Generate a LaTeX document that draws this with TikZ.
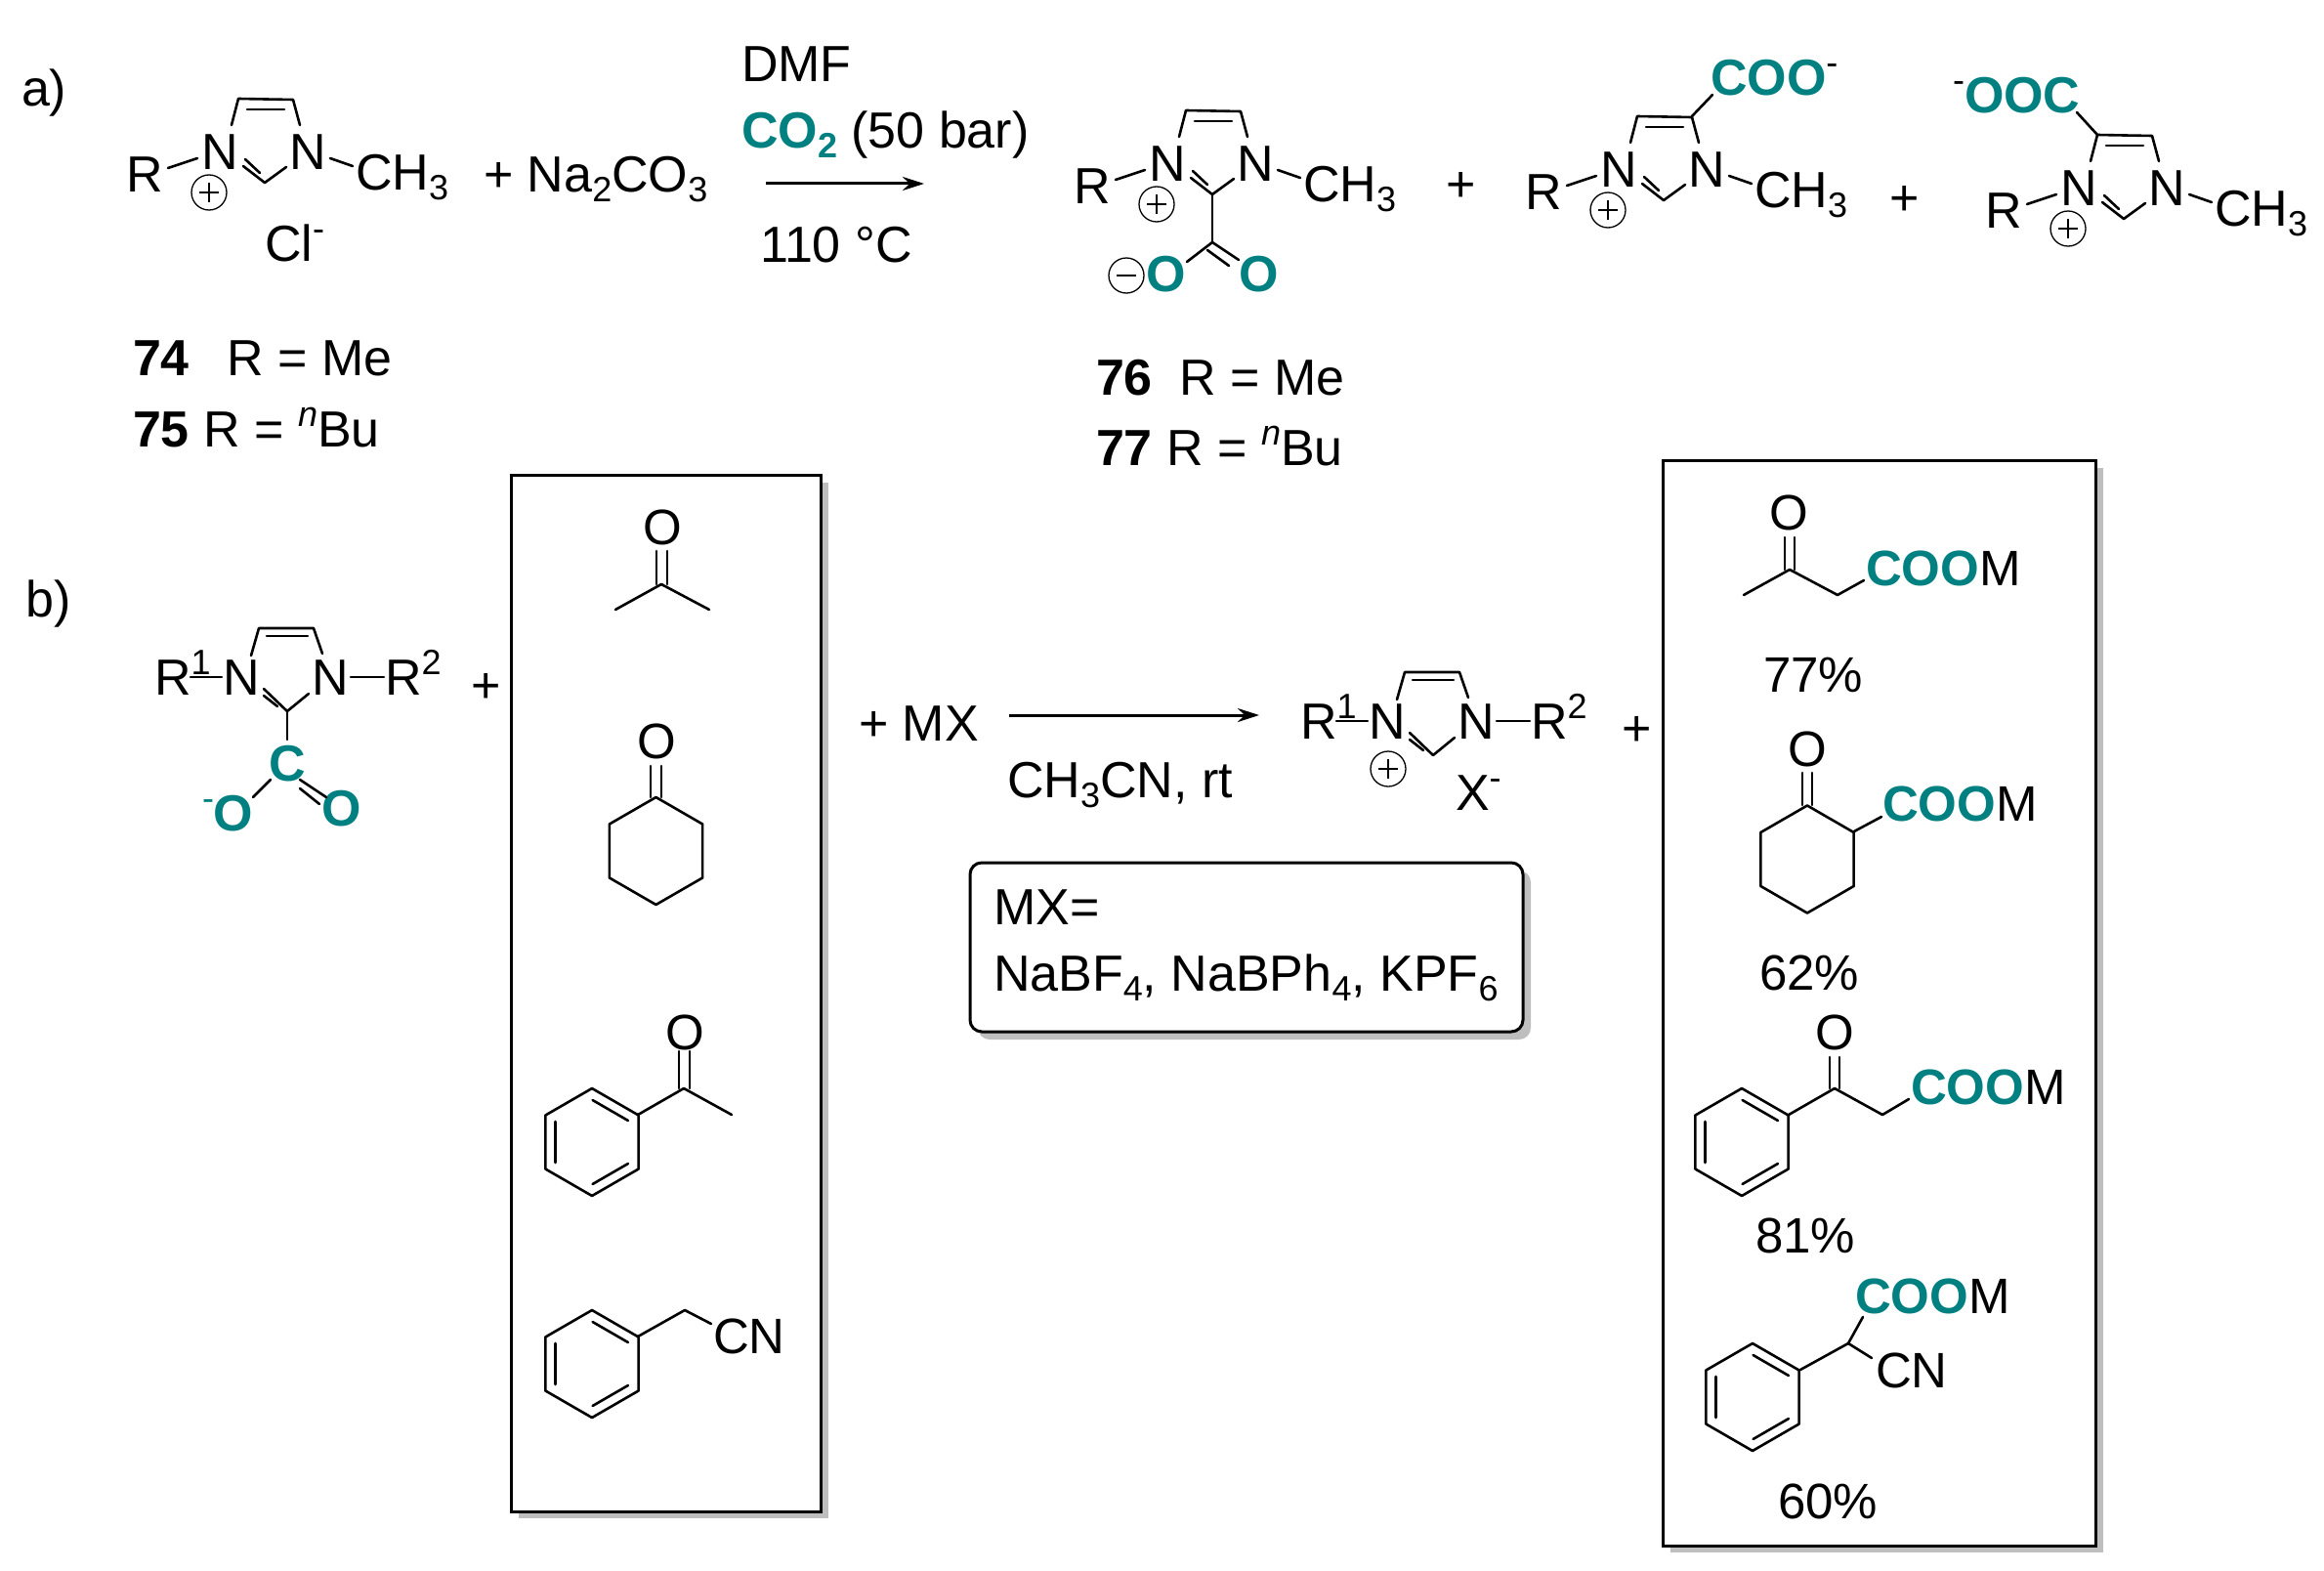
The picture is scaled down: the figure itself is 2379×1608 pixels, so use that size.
\documentclass[tikz,border=0pt]{standalone}
\usepackage{fontspec}
\setmainfont{Liberation Sans}
\usetikzlibrary{arrows.meta}
\definecolor{tl}{RGB}{0,128,128}
\definecolor{shade}{RGB}{190,190,190}
\newcommand\lf{\fontsize{52}{60}\selectfont}
\newcommand\rf{\fontsize{51}{60}\selectfont}
\newcommand\sbs[1]{\raisebox{-.2em}{\fontsize{36}{36}\selectfont #1}}
\newcommand\sps[1]{\raisebox{.4em}{\fontsize{36}{36}\selectfont #1}}
\newcommand\coo[1]{\textcolor{tl}{\textbf{#1}}}
\tikzset{
  lbl/.style={anchor=base west,inner sep=0pt,outer sep=0pt,font=\lf,text=black,yshift=-1.5pt},
  blbl/.style={lbl,font=\rf},
  bond/.style={line width=2.6pt,line cap=round,line join=round,draw=black},
  rxn/.style={line width=3pt,draw=black,-{Stealth[length=22pt,width=14pt]}},
  boxframe/.style={line width=3pt,draw=black,fill=white},
  boxshade/.style={fill=shade,draw=none},
  chargering/.style={line width=1.3pt,draw=black},
}
% imidazolium of panel a, with its group names
\newcommand\imid[3]{%
\begin{scope}[shift={(#2,#3)}]
  \node[lbl] (#1R) at (129,195) {R};
  \node[lbl] (#1NL) at (206,172) {N};
  \node[lbl] (#1NR) at (296,172) {N};
  \node[lbl] (#1Me) at (364,193) {CH\sbs{3}};
  \draw[bond] (237,128)--(244,101)--(300,102)--(307,128);
  \draw[bond] (253,112)--(291,112);
  \draw[bond] (249,170)--(271,187)--(293,171);
  \draw[bond] (251,163)--(266,177);
  \draw[bond] (172,172)--(202,162);
  \draw[bond] (338,162)--(361,170);
  \draw[chargering] (214,197) circle (18);
  \draw[chargering] (204,197)--(224,197) (214,187)--(214,207);
\end{scope}}
% imidazolylidene core of panel b
\newcommand\imidb[3]{%
\begin{scope}[shift={(#2,#3)}]
  \node[lbl] (#1R) at (158,710) {R\sps{1}};
  \node[lbl] (#1NL) at (228,710) {N};
  \node[lbl] (#1NR) at (319,710) {N};
  \node[lbl] (#1RR) at (394,710) {R\sps{2}};
  \draw[bond] (257,671)--(265,643)--(321,643)--(330,669);
  \draw[bond] (273,651)--(315,651);
  \draw[bond] (270,705)--(294,728)--(316,710);
  \draw[bond] (270,712)--(284,723);
  \draw[bond] (195,693)--(227,693);
  \draw[bond] (359,693)--(393,693);
\end{scope}}
\newcommand\benz[2]{%
\begin{scope}[shift={(#1,#2)}]
  \draw[bond] (90:55)--(30:55)--(-30:55)--(-90:55)--(-150:55)--(150:55)--cycle;
  \draw[bond] (89.2:43)--(30.8:43);
  \draw[bond] (-89.2:43)--(-30.8:43);
  \draw[bond] (150.8:43)--(209.2:43);
\end{scope}}
\newcommand\chex[2]{%
\begin{scope}[shift={(#1,#2)}]
  \draw[bond] (90:55)--(30:55)--(-30:55)--(-90:55)--(-150:55)--(150:55)--cycle;
\end{scope}}
\begin{document}
\begin{tikzpicture}[x=1pt,y=-1pt]
\useasboundingbox (0,0) rectangle (2379,1608);
% panel a
\node[lbl] (la) at (22,107) {a)};
\imid{a}{0}{0}
\node[lbl] (cl) at (271,266) {Cl\sps{-}};
\node[lbl] (naco) at (495,195) {+ Na\sbs{2}CO\sbs{3}};
\node[lbl] (dmf) at (759,82) {DMF};
\node[lbl] (co2) at (759,150) {\coo{CO\sbs{2}} (50 bar)};
\coordinate (ara) at (784,188);
\coordinate (arb) at (946,188);
\draw[rxn] (ara)--(arb);
\node[lbl] (temp) at (778,267) {110 °C};
\node[lbl] (n74) at (136,383) {\textbf{74}\hspace{39pt}R = Me};
\node[lbl] (n75) at (136,456) {\textbf{75} R = \sps{\textit{n}}Bu};
% product 76
\imid{b}{970}{12}
\draw[bond] (1241,199)--(1241,248);
\draw[bond] (1241,248)--(1215,268);
\draw[bond] (1241,248)--(1268,266);
\draw[bond] (1236,256)--(1258,272);
\node[lbl] (oa) at (1173,297) {\coo{O}};
\node[lbl] (ob) at (1268,297) {\coo{O}};
\draw[chargering] (1153,282) circle (18);
\draw[chargering] (1143,282)--(1163,282);
\node[lbl] (pa) at (1480,205) {+};
\node[lbl] (n76) at (1122,403) {\textbf{76}\hspace{28pt}R = Me};
\node[lbl] (n77) at (1122,475) {\textbf{77} R = \sps{\textit{n}}Bu};
% product 2
\imid{c}{1432}{18}
\draw[bond] (1732,119)--(1753,97);
\node[lbl] (coo) at (1751,96) {\coo{COO}\sps{-}};
\node[lbl] (pb) at (1934,219) {+};
% product 3
\imid{d}{1903}{37}
\draw[bond] (2147,138)--(2126,115);
\node[lbl] (ooc) at (1999,114) {\sps{-}\coo{OOC}};
% panel b
\node[lbl] (lb) at (27,630) {b)};
\imidb{e}{0}{0}
\draw[bond] (294,728)--(294,757);
\node[lbl] (cc) at (275,798) {\coo{C}};
\node[lbl] (oc) at (207,849) {\textcolor{tl}{\sps{-}}\coo{O}};
\node[lbl] (od) at (329,844) {\coo{O}};
\draw[bond] (259,816)--(277,798);
\draw[bond] (307,798)--(334,816);
\draw[bond] (307,807)--(327,823);
\node[lbl] (pc) at (482,718) {+};
% left box
\fill[boxshade] (531,494) rectangle (848,1554);
\draw[boxframe] (523.5,486) rectangle (840,1547);
\node[blbl] (o1) at (658,556) {O};
\draw[bond] (672,564)--(672,598) (683,564)--(683,598);
\draw[bond] (630,624)--(677,598)--(726,624);
\node[blbl] (o2) at (652,775) {O};
\draw[bond] (666,784)--(666,816) (677,784)--(677,816);
\chex{671.5}{871}
\node[blbl] (o3) at (681,1073) {O};
\draw[bond] (695,1076)--(695,1114) (706,1076)--(706,1114);
\draw[bond] (653,1141)--(700,1114)--(749,1141);
\benz{606}{1169}
\benz{606}{1396}
\draw[bond] (653,1368)--(701,1341)--(728,1355);
\node[blbl] (cn1) at (730,1384) {CN};
% centre
\node[lbl] (mx) at (879,757) {+ MX};
\coordinate (brxa) at (1033,732);
\coordinate (brxb) at (1289,732);
\draw[rxn] (brxa)--(brxb);
\node[lbl] (solv) at (1031,815) {CH\sbs{3}CN, rt};
\imidb{f}{1173}{45}
\draw[chargering] (1421,787) circle (18);
\draw[chargering] (1411,787)--(1431,787) (1421,777)--(1421,797);
\node[lbl] (x) at (1490,828) {X\sps{-}};
\node[lbl] (pd) at (1660,762) {+};
\fill[boxshade,rounded corners=12pt] (1001,891) rectangle (1567,1064);
\draw[boxframe,rounded corners=12pt] (993,883) rectangle (1559,1056);
\node[lbl] (mxa) at (1017,945) {MX=};
\node[lbl] (mxb) at (1017,1013) {NaBF\sbs{4}, NaBPh\sbs{4}, KPF\sbs{6}};
% right box
\fill[boxshade] (1710,479) rectangle (2153,1589);
\draw[boxframe] (1702,471) rectangle (2145,1582);
\node[blbl] (p1o) at (1811,541) {O};
\draw[bond] (1827,550)--(1827,583) (1837,550)--(1837,583);
\draw[bond] (1785,609)--(1832,583)--(1881,609)--(1908,594);
\node[blbl] (p1c) at (1910,598) {\coo{COO}M};
\node[blbl] (y1) at (1805,707) {77\%};
\node[blbl] (p2o) at (1830,783) {O};
\draw[bond] (1845,791)--(1845,824) (1855,791)--(1855,824);
\chex{1850}{879.5}
\draw[bond] (1898,851)--(1926,836);
\node[blbl] (p2c) at (1927,839) {\coo{COO}M};
\node[blbl] (y2) at (1801,1012) {62\%};
\node[blbl] (p3o) at (1858,1073) {O};
\draw[bond] (1873,1082)--(1873,1114) (1883,1082)--(1883,1114);
\benz{1783}{1169}
\draw[bond] (1831,1141)--(1878,1114)--(1927,1141)--(1954,1125);
\node[blbl] (p3c) at (1956,1129) {\coo{COO}M};
\node[blbl] (y3) at (1797,1281) {81\%};
\benz{1794}{1430}
\node[blbl] (p4c) at (1899,1343) {\coo{COO}M};
\draw[bond] (1843,1402)--(1892,1375)--(1907,1348);
\draw[bond] (1892,1375)--(1916,1390);
\node[blbl] (cn2) at (1920,1419) {CN};
\node[blbl] (y4) at (1820,1553) {60\%};
\end{tikzpicture}
\end{document}
